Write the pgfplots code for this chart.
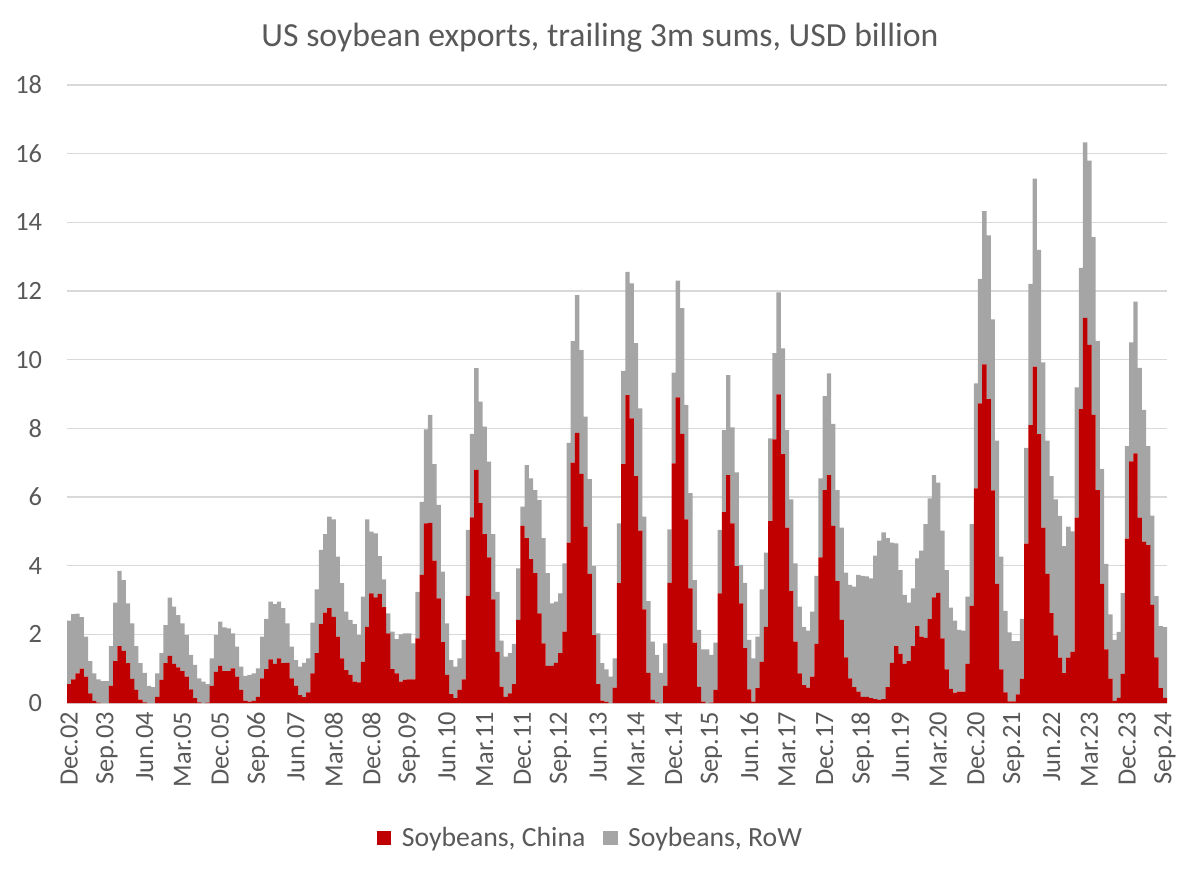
\documentclass[border=0pt]{standalone}
\usepackage{fontspec}
\setmainfont{Carlito}
\usepackage{pgfplots}
\pgfplotsset{compat=1.18}
\usepackage{pgfplotstable}
\definecolor{cnred}{HTML}{C00000}
\definecolor{rowgray}{HTML}{A5A5A5}
\definecolor{txt}{HTML}{595959}
\definecolor{gridc}{HTML}{D9D9D9}

\pgfplotstableread{
i china row
0 0.55 1.85
1 0.69 1.90
2 0.86 1.74
3 1.00 1.50
4 0.77 1.16
5 0.28 0.94
6 0.06 0.80
7 0.01 0.68
8 0.00 0.64
9 0.00 0.64
10 0.50 1.16
11 1.22 1.70
12 1.66 2.19
13 1.52 2.06
14 1.16 1.74
15 0.70 1.62
16 0.38 1.28
17 0.10 1.06
18 0.02 0.86
19 0.00 0.50
20 0.00 0.46
21 0.18 0.68
22 0.67 0.78
23 1.16 1.11
24 1.37 1.70
25 1.14 1.67
26 1.04 1.52
27 0.93 1.39
28 0.77 1.21
29 0.40 1.00
30 0.14 0.97
31 0.02 0.70
32 0.00 0.62
33 0.01 0.54
34 0.50 0.80
35 0.91 1.07
36 1.08 1.29
37 0.93 1.27
38 0.93 1.24
39 1.01 1.02
40 0.77 0.87
41 0.38 0.68
42 0.06 0.73
43 0.04 0.78
44 0.06 0.80
45 0.18 0.83
46 0.72 1.21
47 0.99 1.46
48 1.27 1.68
49 1.14 1.74
50 1.30 1.65
51 1.16 1.60
52 1.17 1.15
53 0.72 0.92
54 0.50 0.75
55 0.23 0.83
56 0.17 1.00
57 0.31 0.99
58 0.86 1.48
59 1.45 1.86
60 2.30 2.16
61 2.63 2.29
62 2.76 2.67
63 2.51 2.84
64 1.93 2.33
65 1.30 2.19
66 0.96 1.70
67 0.82 1.60
68 0.62 1.68
69 0.60 1.38
70 1.20 1.90
71 2.22 3.13
72 3.19 1.80
73 3.08 1.86
74 3.18 1.10
75 2.79 0.81
76 2.03 0.58
77 0.99 1.09
78 0.86 1.00
79 0.62 1.38
80 0.67 1.36
81 0.69 1.34
82 0.69 1.05
83 1.88 1.36
84 3.73 2.13
85 5.23 2.74
86 5.25 3.14
87 4.15 2.81
88 3.05 2.72
89 1.77 2.06
90 0.82 1.50
91 0.26 0.99
92 0.14 0.92
93 0.38 0.92
94 0.69 1.15
95 3.12 1.92
96 5.41 2.43
97 6.79 2.96
98 5.82 2.96
99 4.92 3.13
100 4.24 2.79
101 3.02 1.90
102 1.49 1.75
103 0.47 1.35
104 0.18 1.17
105 0.28 1.17
106 0.55 1.17
107 2.42 1.50
108 5.16 0.56
109 4.80 2.13
110 4.19 2.35
111 3.78 2.42
112 2.61 3.30
113 1.74 3.06
114 1.08 2.70
115 1.08 1.82
116 1.17 1.78
117 1.45 1.74
118 2.08 1.99
119 4.67 2.91
120 7.00 3.54
121 7.87 4.01
122 6.67 3.61
123 5.14 3.20
124 3.76 2.76
125 1.98 2.01
126 0.55 1.48
127 0.07 1.09
128 0.03 0.95
129 0.00 0.77
130 0.45 0.85
131 3.49 1.74
132 6.96 2.71
133 8.97 3.59
134 8.29 3.93
135 6.61 3.87
136 5.02 3.56
137 2.73 2.70
138 0.88 2.09
139 0.09 1.70
140 0.02 1.38
141 0.00 0.88
142 0.50 1.24
143 3.50 1.56
144 6.98 2.64
145 8.90 3.40
146 7.84 3.66
147 5.35 3.33
148 3.34 2.77
149 1.76 1.82
150 0.47 1.66
151 0.04 1.52
152 0.00 1.56
153 0.01 1.39
154 0.38 1.38
155 3.19 1.85
156 5.56 2.39
157 6.64 2.91
158 5.23 2.80
159 3.99 2.73
160 2.90 1.12
161 1.60 1.90
162 0.40 1.44
163 0.04 1.26
164 0.43 1.50
165 1.20 2.11
166 2.22 2.16
167 5.30 2.41
168 7.68 2.51
169 8.99 2.97
170 7.25 3.08
171 5.11 2.84
172 3.26 2.67
173 1.79 2.28
174 0.86 1.95
175 0.52 1.70
176 0.45 1.66
177 0.77 1.89
178 1.72 1.98
179 4.24 2.30
180 6.20 2.74
181 6.64 2.96
182 5.16 2.97
183 3.55 2.65
184 2.42 2.69
185 1.33 2.47
186 0.72 2.72
187 0.46 2.93
188 0.33 3.40
189 0.18 3.52
190 0.18 3.51
191 0.14 3.49
192 0.11 4.18
193 0.09 4.64
194 0.11 4.86
195 0.46 4.34
196 1.17 3.50
197 1.66 2.99
198 1.43 2.44
199 1.14 2.01
200 1.22 1.70
201 1.66 1.68
202 2.24 1.97
203 1.93 2.51
204 1.90 3.31
205 2.44 3.52
206 3.08 3.56
207 3.21 3.21
208 1.88 3.14
209 0.98 2.89
210 0.41 2.37
211 0.30 2.10
212 0.33 1.80
213 0.33 1.78
214 1.14 1.96
215 2.83 2.38
216 6.25 3.06
217 8.73 3.62
218 9.86 4.47
219 8.85 4.77
220 6.19 4.98
221 3.47 4.17
222 0.98 3.28
223 0.31 2.37
224 0.05 2.01
225 0.05 1.75
226 0.25 1.55
227 0.70 1.75
228 4.64 2.79
229 8.09 4.12
230 9.80 5.47
231 7.83 5.37
232 5.11 4.81
233 3.76 3.88
234 2.62 3.99
235 1.97 3.96
236 1.32 4.13
237 0.87 3.70
238 1.32 3.82
239 1.49 3.51
240 5.40 3.79
241 8.56 4.11
242 11.22 5.11
243 10.43 5.37
244 8.39 5.18
245 6.20 4.35
246 3.47 3.35
247 1.56 2.49
248 0.71 1.87
249 0.06 1.78
250 0.15 1.92
251 0.85 2.35
252 4.79 2.69
253 7.04 3.46
254 7.27 4.42
255 5.40 4.36
256 4.70 3.84
257 4.60 2.88
258 2.86 2.60
259 1.33 1.78
260 0.43 1.81
261 0.15 2.06
}\soy

\begin{document}
\begin{tikzpicture}[x=1pt,y=1pt]
\useasboundingbox (0,0) rectangle (900,654);
\begin{axis}[
  at={(50.25pt,126.75pt)}, anchor=south west,
  scale only axis, width=825pt, height=463.5pt,
  xmin=-0.5, xmax=261.5, ymin=0, ymax=18,
  ytick={0,2,...,18},
  xtick={0,9,...,261},
  xticklabels={Dec.02,Sep.03,Jun.04,Mar.05,Dec.05,Sep.06,Jun.07,Mar.08,Dec.08,Sep.09,Jun.10,Mar.11,Dec.11,Sep.12,Jun.13,Mar.14,Dec.14,Sep.15,Jun.16,Mar.17,Dec.17,Sep.18,Jun.19,Mar.20,Dec.20,Sep.21,Jun.22,Mar.23,Dec.23,Sep.24},
  ymajorgrids, grid style={draw=gridc, line width=0.8pt},
  separate axis lines,
  axis x line*=bottom, axis y line*=left,
  x axis line style={draw=gridc, line width=0.9pt, -},
  y axis line style={draw=none},
  major tick length=0pt,
  tick label style={text=txt, font=\fontsize{19.8}{21}\selectfont, inner sep=0pt},
  /pgf/number format/assume math mode=true,
  xticklabel style={rotate=90, anchor=east},
  yticklabel style={anchor=east},
  xticklabel shift=6.5pt,
  yticklabel shift=18.5pt,
  ybar stacked, bar width=1.04,
  legend style={at={(0.476,-0.2184)}, anchor=center, draw=none, fill=none,
    font=\fontsize{20.8}{24}\selectfont, text=txt,
    /tikz/every even column/.append style={column sep=11pt}},
  legend columns=2,
  legend image code/.code={\fill[#1] (0pt,-5.6pt) rectangle (11.2pt,5.6pt); \path (17pt,0pt);},
]
\addplot[fill=cnred, draw=none] table[x=i, y=china] {\soy};
\addlegendentry{Soybeans, China}
\addplot[fill=rowgray, draw=none] table[x=i, y=row] {\soy};
\addlegendentry{Soybeans, RoW}
\end{axis}
\node[text=txt, font=\fontsize{25.3}{29}\selectfont, anchor=center] at (450,625.5) {US soybean exports, trailing 3m sums, USD billion};
\end{tikzpicture}
\end{document}
